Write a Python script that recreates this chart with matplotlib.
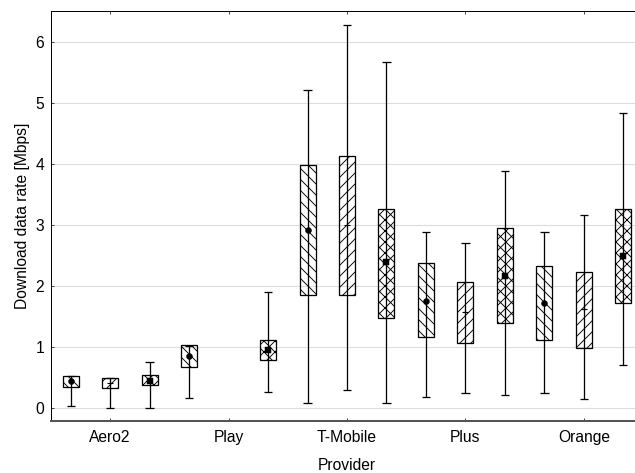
import matplotlib
matplotlib.use("Agg")
import matplotlib.pyplot as plt
import numpy as np

plt.rcParams['font.family'] = ['Liberation Sans', 'DejaVu Sans']
plt.rcParams['hatch.linewidth'] = 1.0

providers = ["Aero2", "Play", "T-Mobile", "Plus", "Orange"]

# Series 1 (\\ hatch, circle mean)
s1_min = [0.03, 0.16, 0.09, 0.185, 0.245]
s1_q1 = [0.35, 0.67, 1.85, 1.16, 1.12]
s1_mid = [0.44, 0.86, 2.92, 1.76, 1.73]
s1_q3 = [0.535, 1.04, 3.99, 2.38, 2.33]
s1_max = [0.535, 1.02, 5.21, 2.895, 2.895]

# Series 2 (// hatch, plus mean); Play has no data
s2_min = [0.01, None, 0.29, 0.245, 0.15]
s2_q1 = [0.33, None, 1.86, 1.065, 0.99]
s2_mid = [0.41, None, 3.0, 1.57, 1.62]
s2_q3 = [0.497, None, 4.14, 2.07, 2.23]
s2_max = [0.497, None, 6.28, 2.71, 3.17]

# Series 3 (x hatch, square mean)
s3_min = [0.0, 0.26, 0.09, 0.22, 0.71]
s3_q1 = [0.38, 0.79, 1.475, 1.39, 1.73]
s3_mid = [0.45, 0.955, 2.39, 2.16, 2.49]
s3_q3 = [0.54, 1.12, 3.27, 2.95, 3.26]
s3_max = [0.75, 1.91, 5.68, 3.88, 4.84]

series = [
    (s1_min, s1_q1, s1_mid, s1_q3, s1_max, '\\\\', 'o', 6.5),
    (s2_min, s2_q1, s2_mid, s2_q3, s2_max, '//', '+', 7),
    (s3_min, s3_q1, s3_mid, s3_q3, s3_max, 'xx', 's', 6),
]
offsets = [-0.333, 0.0, 0.333]

DPI = 66
fig = plt.figure(figsize=(635 / DPI, 473 / DPI), dpi=DPI)
W, H = 635, 473
left, right, top, bottom = 51, 643, 11, 421
ax = fig.add_axes([left / W, 1 - bottom / H, (right - left) / W, (bottom - top) / H])

ax.set_xlim(-0.5, 4.5)
ax.set_ylim(-0.21, 6.51)
ax.set_yticks(range(0, 7))
ax.yaxis.grid(True, color='#dcdcdc', linewidth=1.2, zorder=0)
ax.set_axisbelow(True)

box_w = 0.135
cap_w = 0.07
lw = 1.4
for (mn, q1, md, q3, mx, hatch, mk, ms), off in zip(series, offsets):
    for i in range(len(providers)):
        if q1[i] is None:
            continue
        x = i + off
        ax.vlines(x, mn[i], mx[i], color='black', linewidth=lw, zorder=2)
        ax.hlines([mn[i], mx[i]], x - cap_w / 2, x + cap_w / 2, color='black', linewidth=lw, zorder=2)
        ax.bar(x, q3[i] - q1[i], bottom=q1[i], width=box_w, fill=False,
               hatch=hatch, edgecolor='black', linewidth=lw, zorder=3)
        ax.plot(x, md[i], marker=mk, color='black', markersize=ms,
                markeredgewidth=1.2 if mk == '+' else 0.5, zorder=4)

ax.set_xticks(range(len(providers)))
ax.set_xticklabels(providers)
ax.tick_params(axis='both', labelsize=17, direction='in', length=3, width=1, color='#333333')
ax.tick_params(axis='x', top=True, pad=10)
ax.tick_params(axis='y', pad=7.5)

for s in ['left', 'top']:
    ax.spines[s].set_color('black')
    ax.spines[s].set_linewidth(1.1)
ax.spines['bottom'].set_color('#555555')
ax.spines['bottom'].set_linewidth(2.2)
ax.spines['right'].set_visible(False)

ax.set_xlabel('Provider', fontsize=17, labelpad=14)
ax.set_ylabel('Download data rate [Mbps]', fontsize=17, labelpad=6)

fig.savefig('out.png', dpi=DPI)
